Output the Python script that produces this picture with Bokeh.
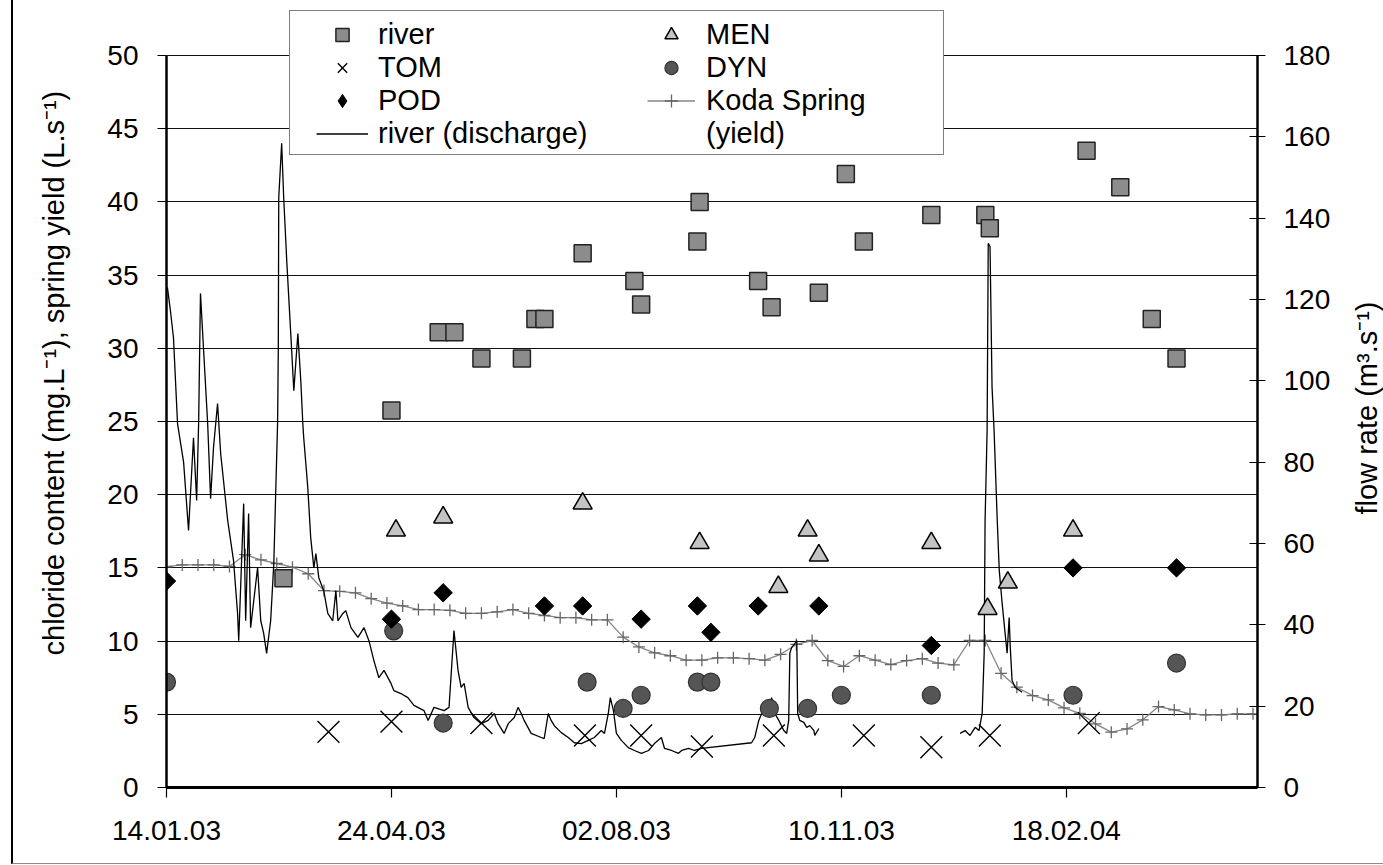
import numpy as np
import pandas as pd
from bokeh.plotting import figure
from bokeh.layouts import row
from bokeh.models import (Range1d, LinearAxis, FixedTicker, DatetimeTickFormatter,
                          Legend, LegendItem, Title, InlineStyleSheet, Div)
from bokeh.embed import file_html
from bokeh.resources import INLINE

# ---------------- data ----------------
START = "2003-01-14"
END_DAYS = 485

tick_dates = ["2003-01-14", "2003-04-24", "2003-08-02", "2003-11-10", "2004-02-18"]

river_dates = ["2003-03-07", "2003-04-24", "2003-05-15", "2003-05-22", "2003-06-03",
               "2003-06-21", "2003-06-27", "2003-07-01", "2003-07-18", "2003-08-10",
               "2003-08-13", "2003-09-07", "2003-09-08", "2003-10-04", "2003-10-10",
               "2003-10-31", "2003-11-12", "2003-11-20", "2003-12-20", "2004-01-13",
               "2004-01-15", "2004-02-27", "2004-03-13", "2004-03-27", "2004-04-07"]
river_cl = [14.3, 25.75, 31.1, 31.1, 29.3, 29.3, 32.0, 32.0, 36.5, 34.6,
            33.0, 37.3, 40.0, 34.6, 32.8, 33.8, 41.9, 37.3, 39.1, 39.1,
            38.2, 43.5, 41.0, 32.0, 29.3]

tom_dates = ["2003-03-27", "2003-04-24", "2003-06-03", "2003-07-19", "2003-08-13",
             "2003-09-09", "2003-10-11", "2003-11-20", "2003-12-20", "2004-01-15",
             "2004-02-28"]
tom_cl = [3.8, 4.5, 4.4, 3.55, 3.55, 2.8, 3.55, 3.55, 2.75, 3.55, 4.4]

pod_dates = ["2003-01-14", "2003-04-24", "2003-05-17", "2003-07-01", "2003-07-18",
             "2003-08-13", "2003-09-07", "2003-09-13", "2003-10-04", "2003-10-31",
             "2003-12-20", "2004-02-21", "2004-04-07"]
pod_cl = [14.1, 11.5, 13.3, 12.4, 12.4, 11.5, 12.4, 10.6, 12.4, 12.4, 9.7, 15.0, 15.0]

men_dates = ["2003-04-26", "2003-05-17", "2003-07-18", "2003-09-08", "2003-10-13",
             "2003-10-26", "2003-10-31", "2003-12-20", "2004-01-14", "2004-01-23",
             "2004-02-21"]
men_cl = [17.55, 18.45, 19.4, 16.7, 13.7, 17.55, 15.85, 16.7, 12.2, 14.0, 17.55]

dyn_dates = ["2003-01-14", "2003-04-25", "2003-05-17", "2003-07-20", "2003-08-05",
             "2003-08-13", "2003-09-07", "2003-09-13", "2003-10-09", "2003-10-26",
             "2003-11-10", "2003-12-20", "2004-02-21", "2004-04-07"]
dyn_cl = [7.2, 10.7, 4.4, 7.2, 5.4, 6.3, 7.2, 7.2, 5.4, 5.4, 6.3, 6.3, 6.3, 8.5]

# Koda Spring yield (L/s), days after 14.01.03
koda_days = [0, 7, 14, 21, 28, 35, 42, 49, 56, 63,
             70, 77, 84, 91, 98, 105, 112, 119, 126, 133,
             140, 147, 154, 161, 168, 175, 182, 189, 196, 203,
             210, 217, 224, 231, 238, 245, 252, 259, 266, 273,
             280, 287, 294, 301, 308, 315, 322, 329, 336, 343,
             350, 357, 364, 371, 378, 385, 392, 399, 406, 413,
             420, 427, 434, 441, 448, 455, 462, 469, 476, 483]
koda_yield = [15.08, 15.2, 15.2, 15.2, 15.1, 15.9, 15.55, 15.3, 15.05, 14.6,
              13.45, 13.4, 13.3, 12.9, 12.6, 12.4, 12.15, 12.15, 12.1, 11.9,
              11.9, 12.0, 12.15, 11.9, 11.75, 11.6, 11.6, 11.45, 11.45, 10.27,
              9.6, 9.2, 9.0, 8.7, 8.7, 8.86, 8.86, 8.8, 8.7, 9.1,
              9.77, 10.04, 8.67, 8.27, 9.0, 8.7, 8.4, 8.67, 8.8, 8.5,
              8.38, 10.04, 10.04, 7.8, 6.85, 6.28, 5.98, 5.44, 5.07, 4.35,
              3.78, 4.0, 4.62, 5.53, 5.3, 5.03, 4.96, 4.96, 5.03, 5.03]

# river discharge (m3/s), days after 14.01.03 -- first recorded segment
discharge_days_a = [0.4, 1.8, 3.1, 4.9, 7.6, 9.8, 12.0, 13.4, 14.3, 15.1,
                    18.3, 19.6, 20.9, 22.7, 24.1, 27.2, 29.8, 31.6, 32.1, 34.3,
                    35.2, 36.5, 37.4, 40.5, 41.9, 43.2, 44.5, 46.3, 47.7, 49.4,
                    49.7, 49.9, 51.2, 52.1, 53.5, 55.2, 56.6, 58.4, 59.7, 60.6,
                    61.0, 62.8, 64.1, 65.5, 66.4, 67.7, 69.9, 71.7, 73.9, 75.3,
                    76.2, 78.4, 79.7, 82.0, 85.1, 87.8, 90.0, 92.2, 94.4, 96.7,
                    99.8, 101.1, 104.2, 107.3, 110.0, 114.5, 116.3, 118.9, 123.4, 125.6,
                    127.8, 129.6, 131.0, 132.3, 134.1, 136.7, 139.9, 143.0, 145.7, 147.4,
                    150.1, 151.9, 154.6, 156.3, 157.7, 159.0, 162.1, 166.6, 167.9, 169.7,
                    171.0, 172.4, 175.5, 178.6, 181.3, 184.4, 187.5, 190.2, 193.3, 194.7,
                    196.4, 197.3, 198.7, 200.0, 202.2, 205.3, 208.0, 211.1, 214.3, 216.9,
                    220.0, 221.4, 224.5, 227.6, 229.0, 232.1, 234.7, 237.9, 260.1, 261.5,
                    263.3, 264.6, 267.7, 269.0, 270.4, 272.2, 274.4, 275.7, 276.6, 277.1,
                    277.9, 279.3, 280.2, 280.6, 281.5, 283.3, 284.6, 286.0, 287.8, 288.2,
                    290.0]
discharge_flow_a = [123, 117, 110.6, 89.5, 80, 63.2, 86, 70.6, 90, 121.5,
                    89.5, 71, 83.6, 94.4, 82, 65.7, 55.8, 42.8, 36.1, 69.8,
                    41, 67.4, 39.3, 54.1, 41, 37.9, 33, 41, 55, 90,
                    108, 145, 158.4, 145, 129, 112, 97.6, 111.6, 100, 89.5,
                    86, 73.8, 61.5, 54, 57.5, 51.6, 48.4, 42.8, 41, 48.4,
                    41, 42.8, 43.5, 39.3, 36.9, 39.3, 36.1, 31.2, 27, 28.8,
                    25.6, 23.8, 23.1, 22.1, 20.2, 18.9, 16.5, 19.7, 18.9, 19.7,
                    38.6, 28.8, 24.6, 25.6, 19.7, 17.2, 15.7, 16.5, 18.2, 15.7,
                    13.3, 15.7, 17.2, 19.7, 18.2, 16.5, 13.3, 12.3, 12, 18.2,
                    16.5, 15.2, 13.5, 12.3, 11, 10.8, 11.6, 12.3, 14, 13.3,
                    18.2, 22.1, 18.9, 13.3, 11.6, 9.8, 9.1, 8.4, 9.1, 10.8,
                    12.3, 9.6, 9.1, 8.4, 9.1, 9.6, 9.1, 9.6, 11, 12.3,
                    16.5, 18.2, 19.7, 22.1, 18.2, 16.5, 14, 13.3, 16.5, 33,
                    34.4, 35.4, 36.1, 18.2, 16.5, 16, 14.8, 15.2, 14, 12.8,
                    14.5]
# second recorded segment
discharge_days_b = [352.8, 355.0, 357.2, 359.5, 361.2, 362.6, 363.5, 363.9, 364.8, 365.3,
                    366.1, 367.0, 367.9, 369.3, 370.2, 371.5, 372.8, 373.7, 374.6, 375.1,
                    375.9, 377.3, 380.4]
discharge_flow_b = [13.3, 14, 12.8, 14.8, 14, 18.2, 33, 65.7, 87.8, 133.8,
                    133, 98.4, 87.8, 65.7, 53.4, 45.2, 37.9, 33, 41.8, 34.4,
                    26.3, 24.6, 23.4]

LEFT_TITLE = "chloride content (mg.L\u207b\u00b9), spring yield (L.s\u207b\u00b9)"
RIGHT_TITLE = "flow rate (m\u00b3.s\u207b\u00b9)"

# ---------------- helpers ----------------
start = pd.Timestamp(START)
def dts(lst):
    return pd.to_datetime(lst)
def from_days(lst):
    return start + pd.to_timedelta(np.array(lst, dtype=float), unit="D")

FONT = "Liberation Sans"
W, H = 1383, 865
SIDE_W = 40                                      # strip that holds the right-hand title
PW = W - SIDE_W
FR_L, FR_R, FR_T, FR_B = 166, 1257, 10, 787      # frame edges (px)
Y50_PX = 55                                        # where 50 on the left axis sits
px_per_unit = (FR_B - Y50_PX) / 50.0
ymax_left = (FR_B - FR_T) / px_per_unit
ymax_right = ymax_left * 180.0 / 50.0

p = figure(width=PW, height=H, x_axis_type="datetime",
           x_range=Range1d(start, start + pd.Timedelta(days=END_DAYS)),
           y_range=Range1d(0, ymax_left),
           output_backend="svg", toolbar_location=None,
           min_border_left=FR_L, min_border_right=PW - FR_R,
           min_border_top=FR_T, min_border_bottom=H - FR_B)
p.extra_y_ranges = {"flow": Range1d(0, ymax_right)}
p.outline_line_color = None
p.background_fill_color = "white"
p.border_fill_color = "white"

# grid
p.xgrid.visible = False
p.ygrid.ticker = FixedTicker(ticks=list(range(0, 51, 5)))
p.ygrid.grid_line_color = "#111111"
p.ygrid.grid_line_width = 1.2

# left axis
ya = p.yaxis[0]
ya.bounds = (0, 50)
ya.ticker = FixedTicker(ticks=list(range(0, 51, 5)))
ya.major_label_text_font = FONT
ya.major_label_text_font_size = "28px"
ya.major_label_text_color = "black"
ya.major_tick_out = 9
ya.major_tick_in = 0
ya.minor_tick_out = 0
ya.minor_tick_in = 0
ya.major_label_standoff = 19
ya.axis_line_width = 2.5
ya.major_tick_line_width = 1.2

p.add_layout(Title(text=LEFT_TITLE, align="left", offset=132, standoff=69,
                   text_font=FONT, text_font_size="29px", text_font_style="normal",
                   text_color="black"), "left")

# right axis
ra = LinearAxis(y_range_name="flow", ticker=FixedTicker(ticks=list(range(0, 181, 20))))
ra.bounds = (0, 180)
ra.major_label_text_font = FONT
ra.major_label_text_font_size = "28px"
ra.major_label_text_color = "black"
ra.major_tick_out = 8
ra.major_tick_in = 8
ra.minor_tick_out = 0
ra.minor_tick_in = 0
ra.major_label_standoff = 18
ra.axis_line_width = 2.5
ra.major_tick_line_width = 1.2
p.add_layout(ra, "right")

# bottom axis
xa = p.xaxis[0]
xa.ticker = FixedTicker(ticks=[pd.Timestamp(d).value / 1e6 for d in tick_dates])
fmt = "%d.%m.%y"
xa.formatter = DatetimeTickFormatter(microseconds=fmt, milliseconds=fmt, seconds=fmt,
                                     minsec=fmt, minutes=fmt, hourmin=fmt, hours=fmt,
                                     days=fmt, months=fmt, years=fmt)
xa.major_label_text_font = FONT
xa.major_label_text_font_size = "28px"
xa.major_label_text_color = "black"
xa.major_tick_out = 10
xa.major_tick_in = 0
xa.minor_tick_out = 0
xa.minor_tick_in = 0
xa.major_label_standoff = 23
xa.axis_line_width = 3
xa.major_tick_line_width = 1.2

# ---------------- glyphs ----------------
r_koda_line = p.line(from_days(koda_days), koda_yield, line_color="#858585", line_width=1.3)
r_koda_pts = p.scatter(from_days(koda_days), koda_yield, marker="cross", size=12,
                       line_color="#666666", line_width=1.3)

r_dis = p.line(from_days(discharge_days_a), discharge_flow_a, y_range_name="flow",
               line_color="black", line_width=1.3)
p.line(from_days(discharge_days_b), discharge_flow_b, y_range_name="flow",
       line_color="black", line_width=1.3)

r_tom = p.scatter(dts(tom_dates), tom_cl, marker="x", size=31, line_color="black", line_width=1.4)
r_dyn = p.scatter(dts(dyn_dates), dyn_cl, marker="circle", size=18, fill_color="#555555",
                  line_color="#333333", line_width=1.2)
# POD: a diamond (used by the legend) hidden under a square turned by 45 degrees
r_pod = p.scatter(dts(pod_dates), pod_cl, marker="diamond", size=16,
                  fill_color="black", line_color="black", line_width=1)
p.scatter(dts(pod_dates), pod_cl, marker="square", angle=np.pi / 4, size=13,
          fill_color="black", line_color="black", line_width=1)
r_men = p.scatter(dts(men_dates), men_cl, marker="triangle", size=19, fill_color="#c4c4c4",
                  line_color="black", line_width=1.5)
r_river = p.scatter(dts(river_dates), river_cl, marker="square", size=17, fill_color="#8c8c8c",
                    line_color="#222222", line_width=1.5)
r_blank = p.scatter([], [], marker="circle", size=1, fill_alpha=0, line_alpha=0)

# ---------------- legend (box + two columns) ----------------
box = Legend(items=[LegendItem(label=" ", renderers=[r_blank])],
             location=(289 - FR_L, FR_B - 155),
             padding=0, margin=0, spacing=0, glyph_width=1, glyph_height=1,
             label_standoff=0, label_width=652, label_height=143,
             label_text_font_size="1px",
             border_line_color="black", border_line_width=1.5,
             background_fill_color="white", background_fill_alpha=1.0)

common = dict(padding=0, margin=0, spacing=0, glyph_height=33, label_height=33,
              label_text_font=FONT, label_text_font_size="29px", label_text_color="black",
              border_line_color=None, background_fill_alpha=0.0)
leg1 = Legend(items=[LegendItem(label="river", renderers=[r_river]),
                     LegendItem(label="TOM", renderers=[r_tom]),
                     LegendItem(label="POD", renderers=[r_pod]),
                     LegendItem(label="river (discharge)", renderers=[r_dis])],
              location=(316 - FR_L, FR_B - 150),
              glyph_width=52, label_standoff=10, **common)
leg2 = Legend(items=[LegendItem(label="MEN", renderers=[r_men]),
                     LegendItem(label="DYN", renderers=[r_dyn]),
                     LegendItem(label="Koda Spring", renderers=[r_koda_line, r_koda_pts]),
                     LegendItem(label="(yield)", renderers=[r_blank])],
              location=(647 - FR_L, FR_B - 150),
              glyph_width=48, label_standoff=11, **common)
p.add_layout(box, "center")
p.add_layout(leg1, "center")
p.add_layout(leg2, "center")

# ---------------- right-hand title (reads bottom-to-top) ----------------
right_title = Div(
    text=('<div style="position:absolute; left:19px; top:403px; '
          'writing-mode:vertical-rl; '
          'transform:translate(-50%,-50%) rotate(180deg); white-space:nowrap; '
          "font-family:'Liberation Sans',Arial,sans-serif; font-size:29px; "
          'line-height:1; color:#000;">' + RIGHT_TITLE + '</div>'),
    width=SIDE_W, height=H,
    styles={"position": "relative", "overflow": "visible", "background": "white"})

layout = row(p, right_title, spacing=0)
# thin outer frame of the original figure (left and bottom edges)
layout.stylesheets = [InlineStyleSheet(css=(
    ":host { position: relative; }"
    ":host::after { content: ''; position: absolute; left: 11px; top: 0px; "
    "width: 1372px; height: 864px; border-left: 2px solid #000; "
    "border-bottom: 1px solid #8a8a8a; box-sizing: border-box; "
    "pointer-events: none; z-index: 10; }"))]

open("out.html", "w").write(file_html(layout, INLINE))
